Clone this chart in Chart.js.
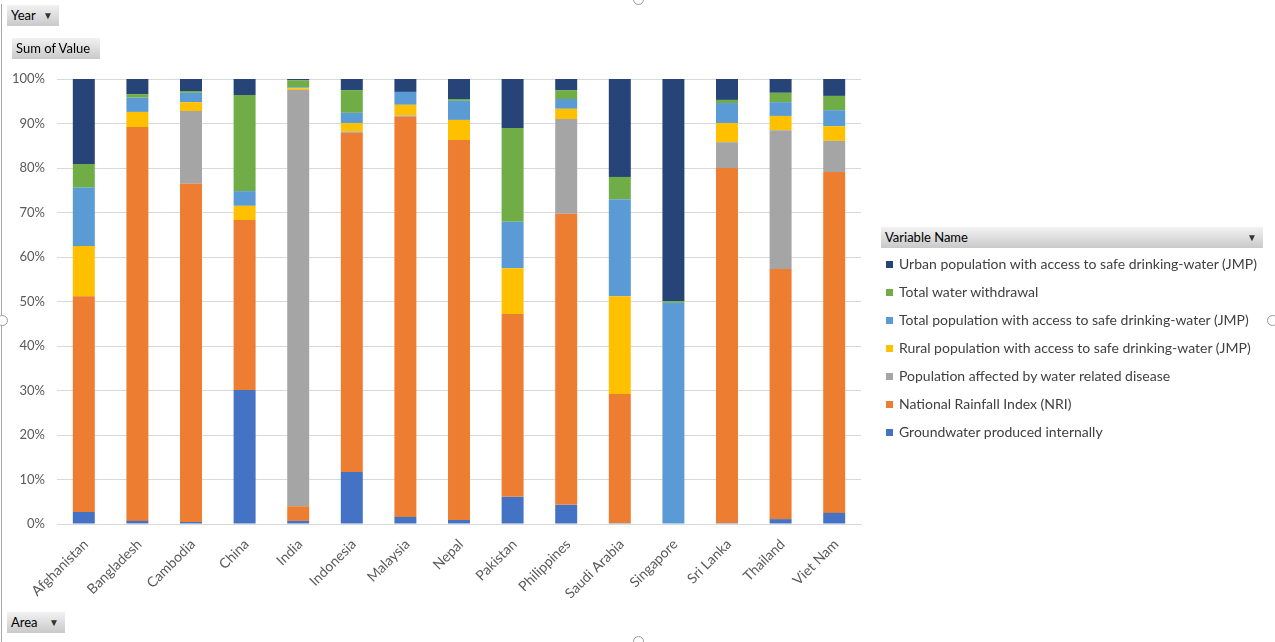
<!DOCTYPE html>
<html lang="en">
<head>
<meta charset="UTF-8">
<title>Sum of Value by Area</title>
<script src="https://cdn.jsdelivr.net/npm/chart.js"></script>
<style>
    body { margin: 0; background: #fff; font-family: Lato, "Noto Sans", sans-serif; }
    #wrap { position: relative; width: 1275px; height: 642px; overflow: hidden; }
    #chart { position: absolute; left: 0; top: 0; }
    .btn {
        position: absolute; height: 21px; line-height: 21px; font-size: 13px; color: #000;
        background: linear-gradient(#f2f2f2, #c9c9c9); padding-left: 4px; box-sizing: border-box;
    }
    .arrow { position: absolute; right: 6px; top: 0; font-size: 10px; color: #333; }
    #legend { position: absolute; left: 886px; top: 254px; font-size: 14px; color: #404040; }
    #legend div { height: 28px; line-height: 20px; white-space: nowrap; }
    #legend span.box { display: inline-block; width: 7px; height: 7px; margin-right: 6px; vertical-align: 1px; }
    .frame { position: absolute; left: 1px; top: 4px; width: 1px; height: 640px; background: #a6a6a6; }
    .handle { position: absolute; width: 9px; height: 9px; border: 1px solid #9a9a9a; border-radius: 50%; background: #fff; }
</style>
</head>
<body>
<div id="wrap">
    <canvas id="chart" width="1275" height="642"></canvas>
    <div class="frame"></div>
    <div class="handle" style="left:633px; top:-6px;"></div>
    <div class="handle" style="left:-3px; top:315px;"></div>
    <div class="handle" style="left:1267px; top:315px;"></div>
    <div class="handle" style="left:633px; top:636px;"></div>
    <div class="btn" style="left:7px; top:5px; width:52px;">Year<span class="arrow">&#9660;</span></div>
    <div class="btn" style="left:12px; top:38px; width:88px;">Sum of Value</div>
    <div class="btn" style="left:7px; top:612px; width:58px;">Area<span class="arrow">&#9660;</span></div>
    <div class="btn" style="left:881px; top:227px; width:382px;">Variable Name<span class="arrow">&#9660;</span></div>
    <div id="legend"></div>
</div>
<script>
    // 国 (カテゴリ)
    const areas = ['Afghanistan', 'Bangladesh', 'Cambodia', 'China', 'India', 'Indonesia', 'Malaysia',
        'Nepal', 'Pakistan', 'Philippines', 'Saudi Arabia', 'Singapore', 'Sri Lanka', 'Thailand', 'Viet Nam'];

    // 各変数の割合 (%) - 下から順に積み上げ
    const groundwater = [2.7, 0.7, 0.45, 30.1, 0.7, 11.7, 1.6, 0.9, 6.1, 4.3, 0.2, 0, 0.2, 1.1, 2.5];
    const rainfall = [48.5, 88.5, 76.0, 38.2, 3.3, 76.2, 89.9, 85.4, 41.1, 65.4, 29.0, 0, 79.8, 56.2, 76.6];
    const disease = [0, 0, 16.3, 0, 93.6, 0.3, 0.3, 0, 0, 21.3, 0, 0, 5.8, 31.2, 7.0];
    const rural = [11.3, 3.4, 2.0, 3.2, 0.4, 1.9, 2.4, 4.5, 10.3, 2.3, 22.0, 0, 4.3, 3.2, 3.3];
    const totalPop = [13.1, 3.2, 2.1, 3.3, 0.2, 2.3, 2.9, 4.3, 10.4, 2.2, 21.8, 49.7, 4.5, 3.1, 3.6];
    const withdrawal = [5.3, 0.8, 0.4, 21.6, 1.6, 5.1, 0, 0.4, 21.1, 2.0, 5.0, 0.4, 0.7, 2.1, 3.2];
    const urban = [19.1, 3.4, 2.7, 3.6, 0.3, 2.5, 2.9, 4.5, 11.0, 2.5, 22.0, 49.9, 4.7, 3.1, 3.8];

    const seriesNames = ['Groundwater produced internally', 'National Rainfall Index (NRI)',
        'Population affected by water related disease', 'Rural population with access to safe drinking-water (JMP)',
        'Total population with access to safe drinking-water (JMP)', 'Total water withdrawal',
        'Urban population with access to safe drinking-water (JMP)'];
    const seriesValues = [groundwater, rainfall, disease, rural, totalPop, withdrawal, urban];
    const seriesColors = ['#4472C4', '#ED7D31', '#A5A5A5', '#FFC000', '#5B9BD5', '#70AD47', '#264478'];

    const yTicks = [0, 10, 20, 30, 40, 50, 60, 70, 80, 90, 100];

    // 100%積み上げ用に正規化
    const totals = areas.map((_, i) => seriesValues.reduce((s, arr) => s + arr[i], 0));

    const datasets = seriesNames.map((name, k) => ({
        label: name,
        data: seriesValues[k].map((v, i) => v / totals[i] * 100),
        backgroundColor: seriesColors[k],
        borderWidth: 0,
        barPercentage: 0.41,
        categoryPercentage: 1.0
    }));

    // 凡例 (上から Urban → Groundwater)
    const legend = document.getElementById('legend');
    for (let k = seriesNames.length - 1; k >= 0; k--) {
        const row = document.createElement('div');
        row.innerHTML = `<span class="box" style="background:${seriesColors[k]}"></span>${seriesNames[k]}`;
        legend.appendChild(row);
    }

    const tickFont = { family: 'Lato, "Noto Sans", sans-serif', size: 13 };

    new Chart(document.getElementById('chart').getContext('2d'), {
        type: 'bar',
        data: { labels: areas, datasets: datasets },
        options: {
            responsive: false,
            animation: false,
            layout: { padding: { left: 0, right: 414, top: 79, bottom: 0 } },
            plugins: { legend: { display: false }, tooltip: { enabled: false } },
            scales: {
                x: {
                    stacked: true,
                    afterFit: s => { s.height = 118; },
                    grid: { display: false },
                    border: { color: '#D9D9D9' },
                    ticks: { color: '#595959', font: { family: tickFont.family, size: 14 }, minRotation: 45, maxRotation: 45, padding: 4, labelOffset: 2 }
                },
                y: {
                    stacked: true,
                    min: 0,
                    max: 100,
                    afterFit: s => { s.width = 57; },
                    afterBuildTicks: s => { s.ticks = yTicks.map(v => ({ value: v })); },
                    grid: { color: '#D9D9D9', drawTicks: false },
                    border: { display: false },
                    ticks: { color: '#595959', font: tickFont, padding: 12, callback: v => v + '%' }
                }
            }
        }
    });
</script>
</body>
</html>
